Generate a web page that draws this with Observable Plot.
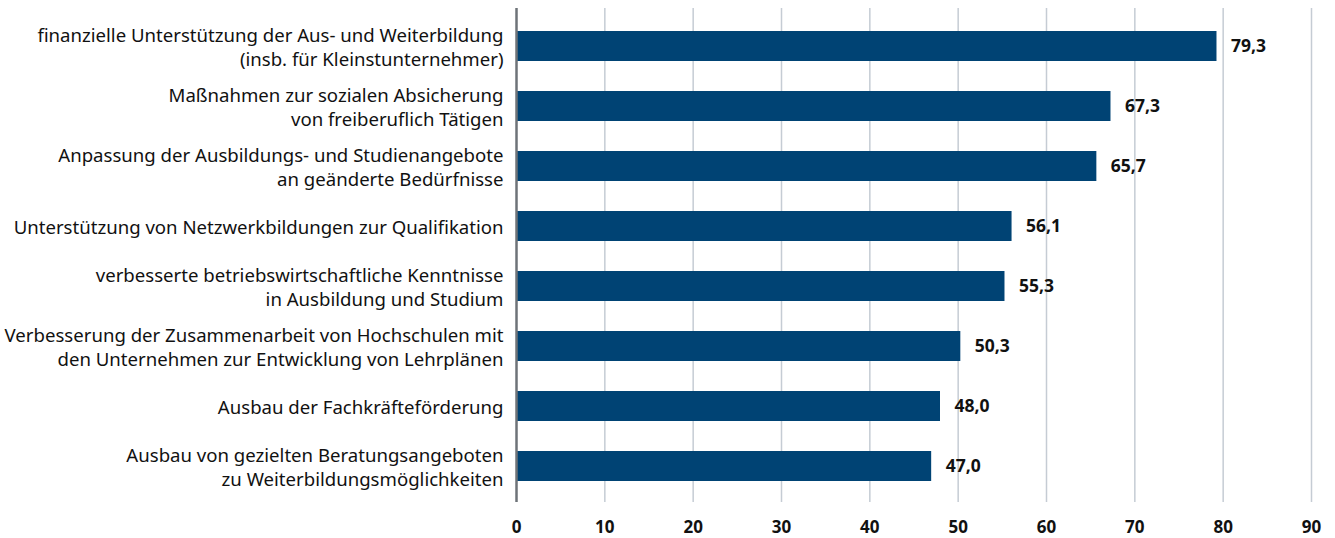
<!DOCTYPE html>
<html><head><meta charset="utf-8">
<script src="https://cdn.jsdelivr.net/npm/d3@7"></script>
<script src="https://cdn.jsdelivr.net/npm/@observablehq/plot@0.6"></script>
<style>body{margin:0;background:#fff;} svg{font-family:"Noto Sans",sans-serif;}</style>
</head><body><div id="chart"></div>
<script>
const categories = [
  "finanzielle Unterstützung der Aus- und Weiterbildung\n(insb. für Kleinstunternehmer)",
  "Maßnahmen zur sozialen Absicherung\nvon freiberuflich Tätigen",
  "Anpassung der Ausbildungs- und Studienangebote\nan geänderte Bedürfnisse",
  "Unterstützung von Netzwerkbildungen zur Qualifikation",
  "verbesserte betriebswirtschaftliche Kenntnisse\nin Ausbildung und Studium",
  "Verbesserung der Zusammenarbeit von Hochschulen mit\nden Unternehmen zur Entwicklung von Lehrplänen",
  "Ausbau der Fachkräfteförderung",
  "Ausbau von gezielten Beratungsangeboten\nzu Weiterbildungsmöglichkeiten"
];
const values = [79.3, 67.3, 65.7, 56.1, 55.3, 50.3, 48.0, 47.0];
const xTicks = [0, 10, 20, 30, 40, 50, 60, 70, 80, 90];

const data = categories.map((c, i) => ({category: c, value: values[i]}));
const fmt = v => v.toFixed(1).replace(".", ",");

const chart = Plot.plot({
  width: 1335,
  height: 538,
  marginLeft: 516,
  marginRight: 24,
  marginTop: 15,
  marginBottom: 41,
  style: {fontFamily: "'Noto Sans', sans-serif", background: "#fff"},
  x: {domain: [0, 90], ticks: xTicks, label: null},
  y: {domain: categories, paddingInner: 0.5, paddingOuter: 0.25, label: null},
  marks: [
    Plot.ruleX(xTicks.filter(d => d > 0), {stroke: "#c5ccd4", strokeWidth: 1.5, insetTop: -7, insetBottom: -5}),
    Plot.barX(data, {x: "value", y: "category", fill: "#004374"}),
    Plot.ruleX([0], {stroke: "#6e7378", strokeWidth: 2.5, insetTop: -7, insetBottom: -5}),
    Plot.text(data, {x: "value", y: "category", text: d => fmt(d.value), textAnchor: "start", dx: 14, fontWeight: "bold", fontSize: 17.5, fill: "#111"}),
    Plot.axisX({ticks: xTicks, tickSize: 0, tickPadding: 23, fontWeight: "bold", fontSize: 17, fill: "#111", tickFormat: d => String(d), label: null}),
    Plot.axisY({tickSize: 0, tickPadding: 13, fontSize: 18.6, lineHeight: 1.3, fill: "#111", label: null})
  ]
});
document.getElementById("chart").appendChild(chart);
</script>
</body></html>
